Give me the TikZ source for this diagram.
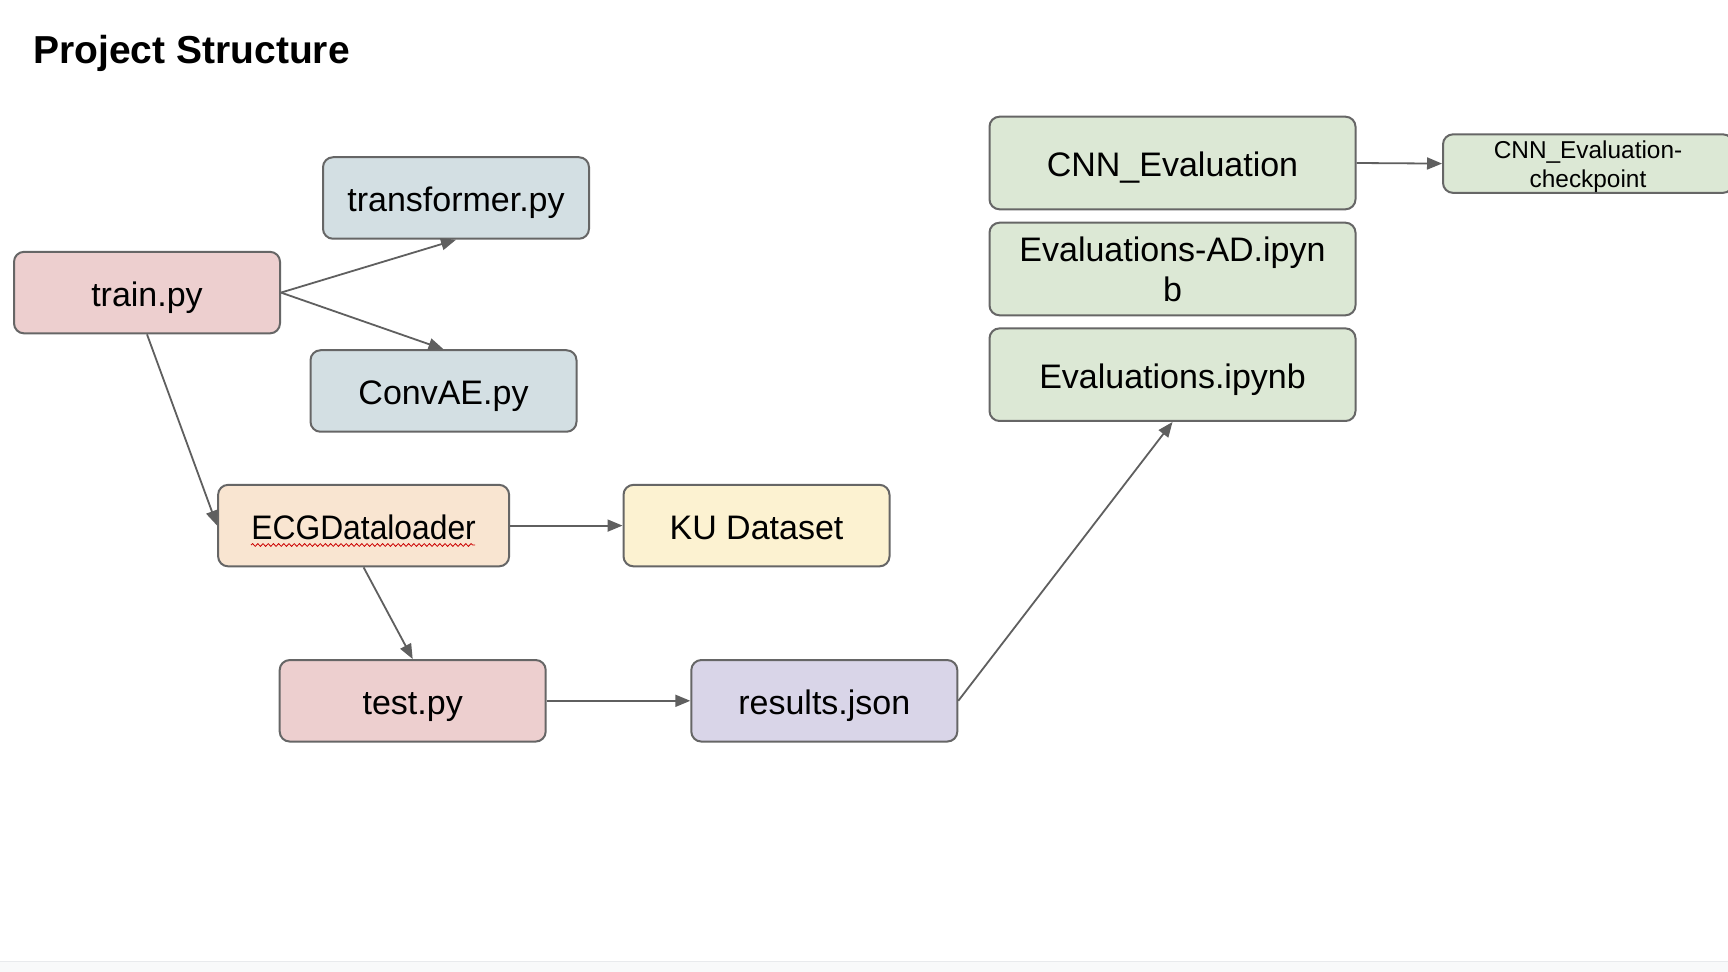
\documentclass[tikz,border=0pt]{standalone}
\usepackage{fontspec}
\setmainfont{Liberation Sans}
\usetikzlibrary{arrows.meta,decorations.pathmorphing}
\definecolor{bordergray}{HTML}{666666}
\definecolor{arrowgray}{HTML}{5F5F5F}
\definecolor{redfill}{HTML}{EDCFCF}
\definecolor{bluefill}{HTML}{D3DFE3}
\definecolor{orangefill}{HTML}{F9E5D1}
\definecolor{yellowfill}{HTML}{FCF2D1}
\definecolor{purplefill}{HTML}{D9D5E8}
\definecolor{greenfill}{HTML}{DCE8D5}
\definecolor{bandfill}{HTML}{F8F9FA}
\definecolor{bandline}{HTML}{E8EAED}
\tikzset{
  boxbase/.style={draw=bordergray, line width=1pt, rounded corners=5pt, inner sep=0pt,
    align=center, font=\fontsize{17}{20}\selectfont,
    minimum width=133pt, minimum height=40.75pt},
  box/.style={boxbase, text height=13.6pt, text depth=0pt},
  bigbox/.style={box, fill=greenfill, minimum width=183pt, minimum height=46.3pt},
  bigboxtwo/.style={boxbase, fill=greenfill, minimum width=183pt, minimum height=46.3pt},
  smallbox/.style={boxbase, fill=greenfill, minimum width=145pt, minimum height=29.25pt},
  smalltext/.style={inner sep=0pt, align=center, font=\fontsize{12.2}{14.3}\selectfont},
  conn/.style={draw=arrowgray, line width=0.9pt, -{Triangle[length=7.5pt,width=6pt]}}
}
\begin{document}
\begin{tikzpicture}[x=0.5pt,y=-0.5pt]
\useasboundingbox (0,0) rectangle (1728,972);
\clip (0,0) rectangle (1728,972);
\fill[white] (0,0) rectangle (1728,972);
\fill[bandfill] (0,961) rectangle (1728,972);
\draw[bandline, line width=0.5pt] (0,961) -- (1728,961);

\node[anchor=base west, inner sep=0pt, font=\fontsize{19.5}{22}\selectfont\bfseries] (title) at (33,64) {Project Structure};

\node[box, fill=redfill] (train) at (147,292.6) {train.py};
\node[box, fill=bluefill] (transformer) at (456,198) {transformer.py};
\node[box, fill=bluefill] (convae) at (443.5,391) {ConvAE.py};
\node[box, fill=orangefill, minimum width=145.5pt] (ecg) at (363.6,525.6) {\scalebox{0.935}[1]{ECGDataloader}};
\node[box, fill=yellowfill] (ku) at (756.5,525.6) {KU Dataset};
\node[box, fill=redfill] (test) at (412.7,700.8) {test.py};
\node[box, fill=purplefill] (results) at (824.3,700.8) {results.json};
\node[bigbox] (cnn) at (1172.5,163) {CNN\_Evaluation};
\node[bigboxtwo] (evalad) at (1172.5,269) {Evaluations-AD.ipyn\\b};
\node[bigbox] (evals) at (1172.5,374.7) {Evaluations.ipynb};
\node[smallbox] (ckpt) at (1588,163.6) {};
\node[smalltext] (ckpttext) at ([yshift=-1.5pt]ckpt.center) {CNN\_Evaluation-\\checkpoint};

\coordinate (wavyA) at (251,545);
\coordinate (wavyB) at (475,545);
\draw[red!80!black, line width=0.4pt, decorate, decoration={snake, amplitude=0.7pt, segment length=2.6pt}] (wavyA) -- (wavyB);

\draw[conn] (train.east) -- (transformer.south);
\draw[conn] (train.east) -- (convae.north);
\draw[conn] (train.south) -- (ecg.west);
\draw[conn] (ecg.east) -- (ku.west);
\draw[conn] (ecg.south) -- (test.north);
\draw[conn] (test.east) -- (results.west);
\draw[conn] (results.east) -- (evals.south);
\draw[conn] (cnn.east) -- (ckpt.west);
\end{tikzpicture}
\end{document}
